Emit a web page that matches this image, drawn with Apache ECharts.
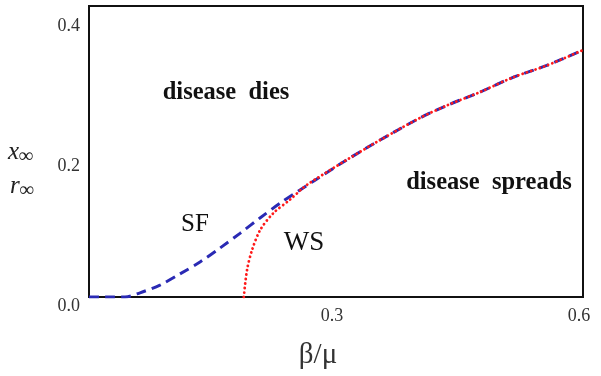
<!DOCTYPE html>
<html>
<head>
<meta charset="utf-8">
<script src="https://cdn.jsdelivr.net/npm/echarts@6/dist/echarts.min.js"></script>
<style>html,body{margin:0;padding:0;background:#fff}#c{width:601px;height:376px}</style>
</head>
<body>
<div id="c"></div>
<script>
// SF network threshold curve (blue dashed): [beta/mu, x_inf]
const sfX = [0, 0.0255, 0.0437, 0.062, 0.0862, 0.1105, 0.1348, 0.1591, 0.1834, 0.2077, 0.232, 0.2563, 0.2745, 0.313, 0.353, 0.402, 0.435, 0.475, 0.515, 0.556, 0.600];
const sfY = [0, 0, 0, 0.006, 0.017, 0.033, 0.050, 0.070, 0.091, 0.113, 0.134, 0.153, 0.167, 0.196, 0.224, 0.256, 0.274, 0.293, 0.314, 0.331, 0.353];
// WS network curve (red dotted)
const wsX = [0.188, 0.192, 0.198, 0.208, 0.224, 0.244, 0.260, 0.268, 0.2745, 0.313, 0.353, 0.402, 0.435, 0.475, 0.515, 0.556, 0.600];
const wsY = [0, 0.039, 0.067, 0.096, 0.120, 0.139, 0.156, 0.163, 0.168, 0.196, 0.224, 0.256, 0.274, 0.293, 0.314, 0.331, 0.353];
const xTicks = [0.3, 0.6];
const yTicks = [0, 0.2, 0.4];

const serif = '"Liberation Serif", "DejaVu Serif", serif';
const chart = echarts.init(document.getElementById('c'), null, {renderer: 'canvas'});
chart.setOption({
  animation: false,
  backgroundColor: '#fff',
  grid: {left: 89, top: 6, right: 18, bottom: 79, show: true, borderColor: '#111', borderWidth: 2, backgroundColor: 'transparent'},
  xAxis: {
    type: 'value', min: 0, max: 0.6,
    axisLine: {show: false}, axisTick: {show: false}, splitLine: {show: false},
    axisLabel: {customValues: xTicks, formatter: v => v.toFixed(1), fontFamily: serif, fontSize: 18, color: '#333', margin: 10, padding: [0, 8, 0, 0]},
    name: 'β/μ', nameLocation: 'middle', nameGap: 44,
    nameTextStyle: {fontFamily: serif, fontSize: 29, color: '#333', padding: [0, 36, 0, 0]}
  },
  yAxis: {
    type: 'value', min: 0, max: 0.416,
    axisLine: {show: false}, axisTick: {show: false}, splitLine: {show: false},
    axisLabel: {customValues: yTicks, formatter: v => v.toFixed(1), fontFamily: serif, fontSize: 18, color: '#333', margin: 9, verticalAlign: 'top', lineHeight: 18}
  },
  graphic: [
    {type: 'text', left: 8, top: 140, style: {text: '{x|x}{s|∞}', rich: {x: {fontFamily: serif, fontStyle: 'italic', fontSize: 25, fill: '#222'}, s: {fontFamily: serif, fontStyle: 'italic', fontSize: 20, fill: '#222', padding: [9, 0, 0, 0]}}}},
    {type: 'text', left: 10, top: 174, style: {text: '{x|r}{s|∞}', rich: {x: {fontFamily: serif, fontStyle: 'italic', fontSize: 25, fill: '#222'}, s: {fontFamily: serif, fontStyle: 'italic', fontSize: 20, fill: '#222', padding: [9, 0, 0, 0]}}}},
    {type: 'text', x: 226, y: 93, style: {text: 'disease  dies', font: 'bold 24.5px ' + serif, fill: '#111', align: 'center', verticalAlign: 'middle'}},
    {type: 'text', x: 489, y: 183, style: {text: 'disease  spreads', font: 'bold 24.5px ' + serif, fill: '#111', align: 'center', verticalAlign: 'middle'}},
    {type: 'text', x: 195, y: 224, style: {text: 'SF', font: '25px ' + serif, fill: '#111', align: 'center', verticalAlign: 'middle'}},
    {type: 'text', x: 304, y: 243, style: {text: 'WS', font: '27px ' + serif, fill: '#111', align: 'center', verticalAlign: 'middle'}}
  ],
  series: [
    {type: 'line', name: 'SF', data: sfX.map((x, i) => [x, sfY[i]]), smooth: 0.3, showSymbol: false, z: 2,
     lineStyle: {color: '#2a2ab4', width: 3, type: [10, 6]}},
    {type: 'line', name: 'WS', data: wsX.map((x, i) => [x, wsY[i]]), smooth: 0.3, showSymbol: false, z: 3,
     lineStyle: {color: '#ff1a1a', width: 2.8, type: [0.1, 4.4], cap: 'round'}}
  ]
});
</script>
</body>
</html>
